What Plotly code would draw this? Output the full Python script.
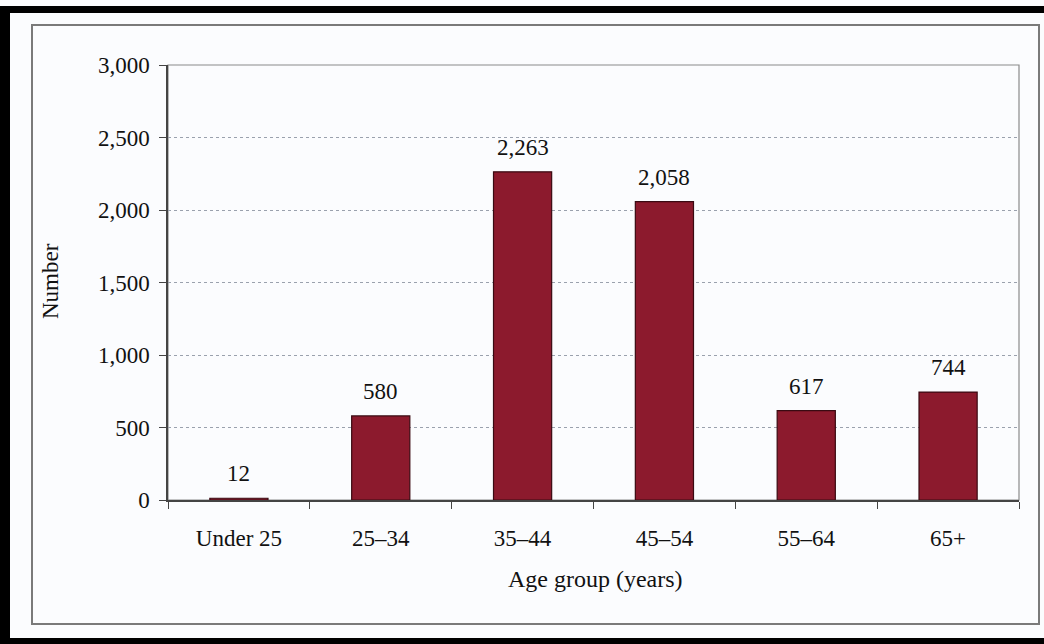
import plotly.graph_objects as go

categories = ["Under 25", "25–34", "35–44", "45–54", "55–64", "65+"]
values = [12, 580, 2263, 2058, 617, 744]
y_ticks = [0, 500, 1000, 1500, 2000, 2500, 3000]

FONT = "Liberation Serif"
W, H = 1044, 644
L, R, T, B = 168, 1019, 65, 500  # plot area in pixels
FS = 23


def px(x):
    return (x - L) / (R - L)


def py(y):
    return (B - y) / (B - T)


fig = go.Figure()
fig.add_trace(go.Bar(
    x=categories, y=values,
    marker=dict(color="#8C1A2D", line=dict(color="#3a0a12", width=1.2)),
    width=0.41,
    hoverinfo="skip",
))

annotations = []
for c, v in zip(categories, values):
    annotations.append(dict(
        x=c, y=v, xref="x", yref="y", text=f"{v:,}", showarrow=False,
        yanchor="bottom", yshift=10, font=dict(family=FONT, size=FS, color="#111")))

annotations.append(dict(x=px(595), y=py(579), xref="paper", yref="paper",
                        xanchor="center", yanchor="middle",
                        text="Age group (years)", showarrow=False,
                        font=dict(family=FONT, size=24, color="#111")))
annotations.append(dict(x=px(50), y=py(281), xref="paper", yref="paper",
                        xanchor="center", yanchor="middle",
                        text="Number", textangle=-90, showarrow=False,
                        font=dict(family=FONT, size=23, color="#111")))

shapes = [
    # plot area border
    dict(type="rect", xref="paper", yref="paper", x0=0, y0=0, x1=1, y1=1,
         line=dict(color="#8a8a8a", width=1.2), layer="below"),
    # inner gray frame
    dict(type="rect", xref="paper", yref="paper", x0=px(32), x1=px(1039),
         y0=py(624), y1=py(25), line=dict(color="#7a7a7a", width=2)),
    # black outer frame strips
    dict(type="rect", xref="paper", yref="paper", x0=px(0), x1=px(10),
         y0=py(644), y1=py(7), fillcolor="#000", line=dict(width=0)),
    dict(type="rect", xref="paper", yref="paper", x0=px(0), x1=px(1044),
         y0=py(13), y1=py(6), fillcolor="#000", line=dict(width=0)),
    dict(type="rect", xref="paper", yref="paper", x0=px(0), x1=px(1044),
         y0=py(644), y1=py(638), fillcolor="#000", line=dict(width=0)),
]

fig.update_layout(
    width=W, height=H,
    margin=dict(l=L, r=W - R, t=T, b=H - B),
    paper_bgcolor="#fbfcfe", plot_bgcolor="#fbfcfe",
    showlegend=False,
    bargap=0.59,
    annotations=annotations,
    shapes=shapes,
    font=dict(family=FONT, size=FS, color="#111"),
)
fig.update_xaxes(
    showline=True, linecolor="#444", linewidth=1.5,
    ticks="outside", tickson="boundaries", ticklen=7, tickcolor="#444",
    tickfont=dict(family=FONT, size=FS, color="#111"),
    ticklabelstandoff=17,
    showgrid=False, fixedrange=True,
)
fig.update_yaxes(
    range=[0, 3000], tickvals=y_ticks, tickformat=",",
    showline=True, linecolor="#444", linewidth=1.5,
    ticks="outside", ticklen=7, tickcolor="#444",
    tickfont=dict(family=FONT, size=FS, color="#111"),
    ticklabelstandoff=5,
    showgrid=True, gridcolor="#9aa1ad", griddash="dot", gridwidth=1,
    zeroline=False, fixedrange=True,
)

fig.write_html(
    "out.html",
    config={"displayModeBar": False},
    post_script="document.body.style.margin='0';document.body.style.overflow='hidden';",
)
